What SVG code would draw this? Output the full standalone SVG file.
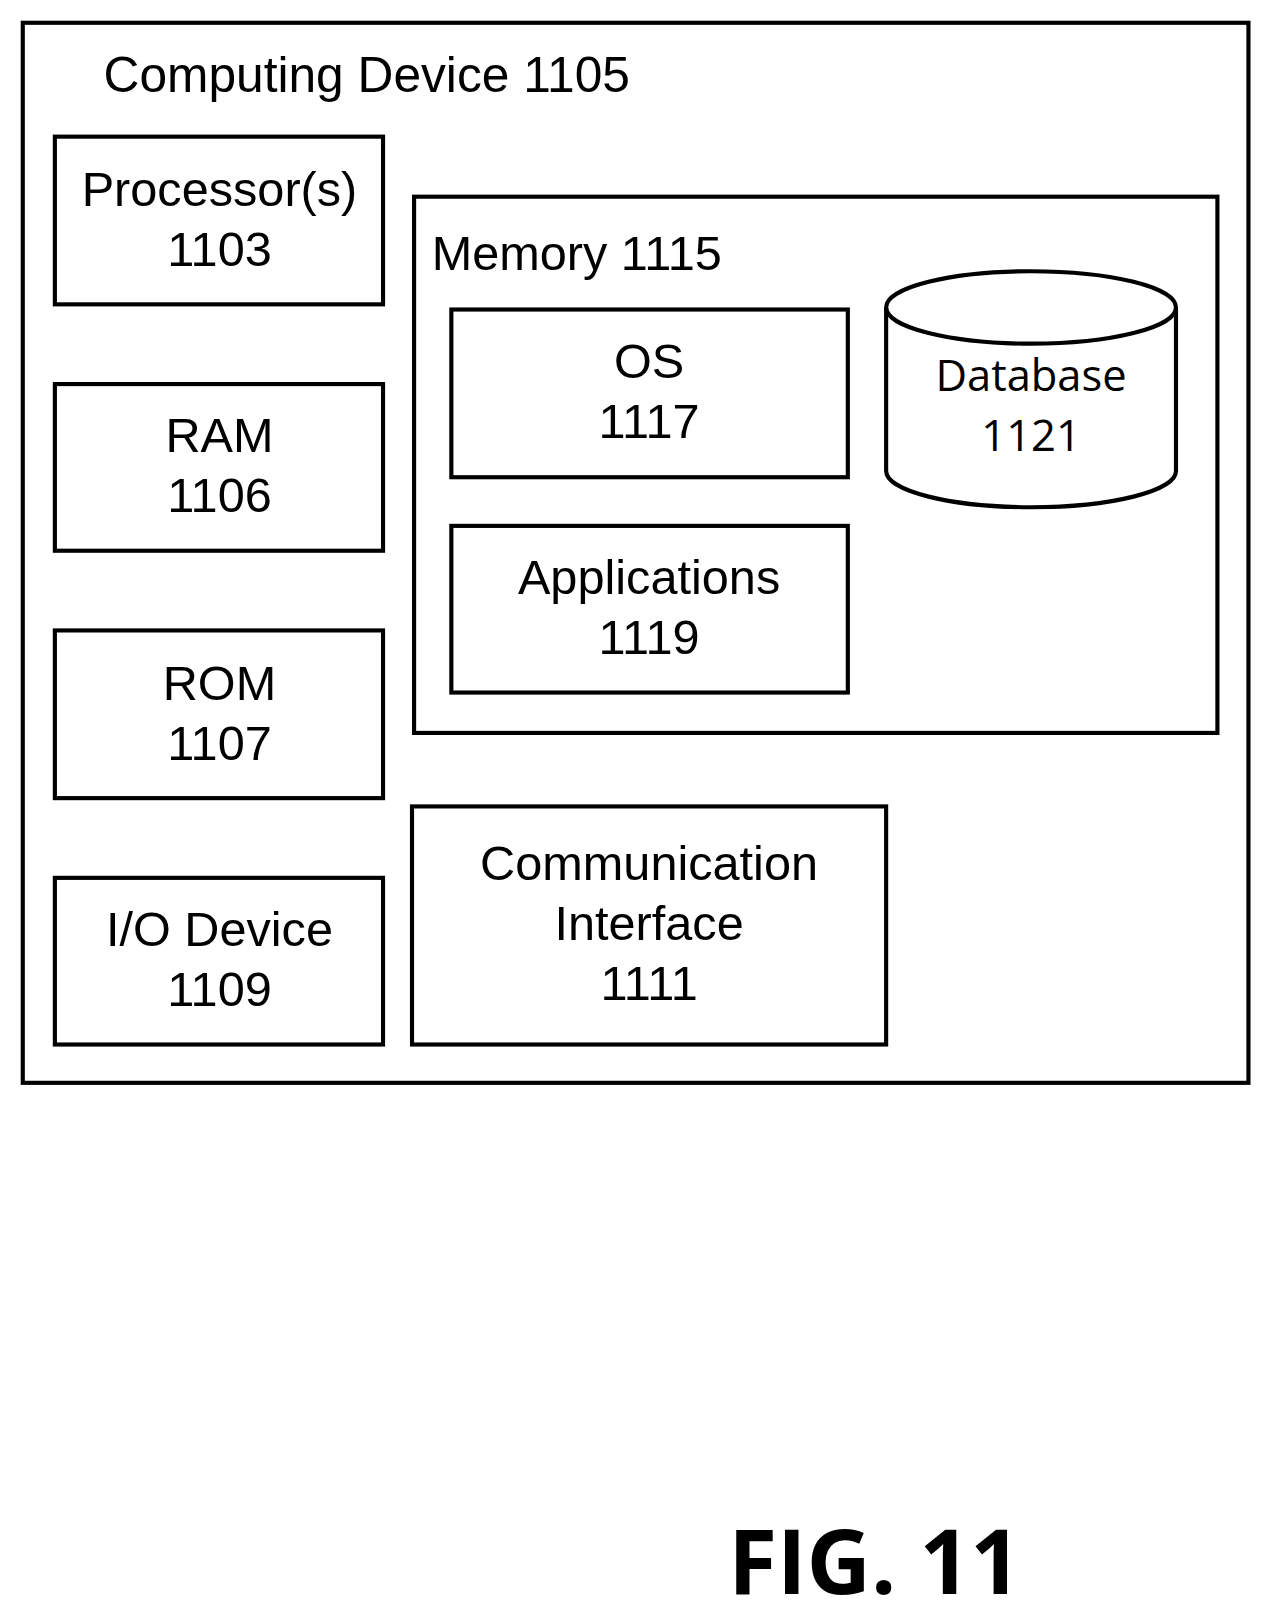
<svg xmlns="http://www.w3.org/2000/svg" width="1272" height="1624" viewBox="0 0 1272 1624">
<style>
.b{fill:none;stroke:#000;stroke-width:4}
.t{font-family:"Liberation Sans",Arial,sans-serif;font-size:47px;fill:#000;text-anchor:middle}
.d{font-family:"Open Sans","DejaVu Sans",sans-serif;font-size:42px;fill:#000;text-anchor:middle}
</style>
<rect width="1272" height="1624" fill="#fff"/>
<g transform="scale(1.0352)">
<g id="device"><rect class="b" x="22" y="22" width="1184" height="1024"/>
<text class="t" x="100" y="89" style="text-anchor:start;font-size:48px">Computing Device 1105</text></g>
<g id="processor"><rect class="b" x="53" y="132" width="317" height="162"/><text class="t" x="212" y="199">Processor(s)</text><text class="t" x="212" y="257">1103</text></g>
<g id="ram"><rect class="b" x="53" y="371" width="317" height="161"/><text class="t" x="212" y="437">RAM</text><text class="t" x="212" y="495">1106</text></g>
<g id="rom"><rect class="b" x="53" y="609" width="317" height="162"/><text class="t" x="212" y="676">ROM</text><text class="t" x="212" y="734">1107</text></g>
<g id="io"><rect class="b" x="53" y="848" width="317" height="161"/><text class="t" x="212" y="914">I/O Device</text><text class="t" x="212" y="972">1109</text></g>
<g id="memory"><rect class="b" x="400" y="190" width="776" height="518"/><text class="t" x="417" y="261" style="text-anchor:start">Memory 1115</text></g>
<g id="os"><rect class="b" x="436" y="299" width="383" height="162"/><text class="t" x="627" y="365">OS</text><text class="t" x="627" y="423">1117</text></g>
<g id="apps"><rect class="b" x="436" y="508" width="383" height="161"/><text class="t" x="627" y="574">Applications</text><text class="t" x="627" y="632">1119</text></g>
<g id="database"><path class="b" d="M856 297 L856 455 A140 35 0 0 0 1136 455 L1136 297"/><ellipse class="b" cx="996" cy="297" rx="140" ry="35"/>
<text class="d" x="996" y="378">Database</text><text class="d" x="996" y="436">1121</text></g>
<g id="comm"><rect class="b" x="398" y="779" width="458" height="230"/><text class="t" x="627" y="850">Communication</text><text class="t" x="627" y="908">Interface</text><text class="t" x="627" y="966">1111</text></g>
<g id="connectors"></g>
<text x="845" y="1540" style="font-family:'Open Sans','DejaVu Sans',sans-serif;font-size:86px;font-weight:bold;text-anchor:middle">FIG. 11</text>
</g>
</svg>
